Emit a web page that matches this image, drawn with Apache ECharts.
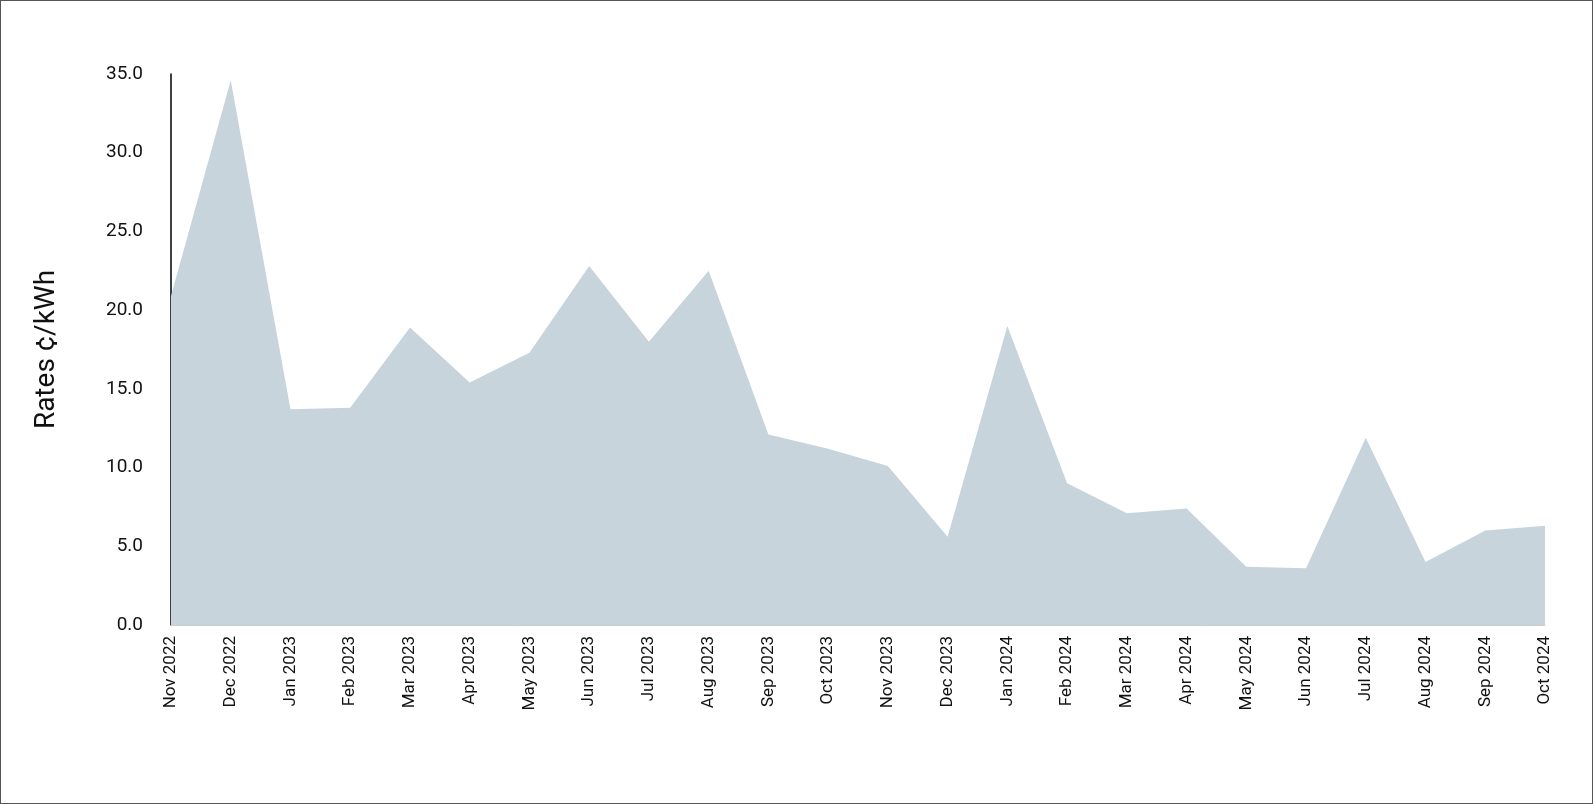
<!DOCTYPE html>
<html><head><meta charset="utf-8">
<script src="https://cdn.jsdelivr.net/npm/echarts@6/dist/echarts.min.js"></script>
<style>html,body{margin:0;padding:0;background:#fff}#c{width:1593px;height:804px;box-sizing:border-box;border:1.5px solid #555;margin:0}</style>
</head><body><div id="c"></div>
<script>
const categories = ["Nov 2022","Dec 2022","Jan 2023","Feb 2023","Mar 2023","Apr 2023","May 2023","Jun 2023","Jul 2023","Aug 2023","Sep 2023","Oct 2023","Nov 2023","Dec 2023","Jan 2024","Feb 2024","Mar 2024","Apr 2024","May 2024","Jun 2024","Jul 2024","Aug 2024","Sep 2024","Oct 2024"];
const rates = [20.9,34.6,13.7,13.8,18.9,15.4,17.3,22.8,18.0,22.5,12.1,11.2,10.1,5.6,19.0,9.0,7.1,7.4,3.7,3.6,11.9,4.0,6.0,6.3];
const chart = echarts.init(document.getElementById('c'));
chart.setOption({
  animation:false,
  grid:{left:170,right:47,top:73,bottom:178},
  xAxis:{type:'category',boundaryGap:false,data:categories,
    axisLine:{lineStyle:{color:'#ccc'}},axisTick:{show:false},
    axisLabel:{rotate:90,color:'#111',fontSize:17,fontFamily:'Roboto',margin:11}},
  yAxis:{type:'value',min:0,max:35,interval:5,name:'Rates ¢/kWh',nameLocation:'middle',nameGap:110,
    nameTextStyle:{fontSize:28,color:'#111',fontFamily:'Roboto'},
    axisLine:{show:true,lineStyle:{color:'#000',width:1.5}},axisTick:{show:false},splitLine:{show:false},
    axisLabel:{formatter:v=>v.toFixed(1),color:'#111',fontSize:19,fontFamily:'Roboto',margin:28}},
  series:[{type:'line',data:rates,symbol:'none',lineStyle:{width:0},areaStyle:{color:'#c8d4dc',opacity:1}}]
});
</script></body></html>
